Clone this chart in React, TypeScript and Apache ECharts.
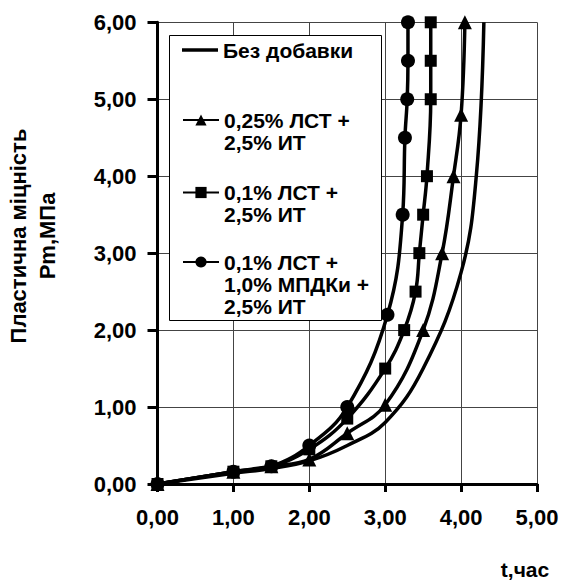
import React, { useEffect, useRef } from 'react';
import * as echarts from 'echarts';

const FONT = '"Liberation Sans", Arial, Helvetica, sans-serif';

// Series names (legend labels)
const nameNone = 'Без добавки';
const nameTri = '0,25% ЛСТ +\n2,5% ИТ';
const nameSq = '0,1% ЛСТ +\n2,5% ИТ';
const nameCir = '0,1% ЛСТ +\n1,0% МПДКи +\n2,5% ИТ';

// Без добавки
const tNone = [0, 1, 1.5, 2, 2.5, 3, 3.5, 4, 4.2, 4.3];
const pNone = [0, 0.14, 0.2, 0.3, 0.5, 0.8, 1.5, 2.75, 4.0, 6.0];

// 0,25% ЛСТ + 2,5% ИТ
const tTri = [0, 1, 1.5, 2, 2.5, 3, 3.5, 3.75, 3.9, 4.0, 4.05];
const pTri = [0, 0.16, 0.23, 0.32, 0.66, 1.03, 2.0, 3.0, 4.0, 4.8, 6.0];

// 0,1% ЛСТ + 2,5% ИТ
const tSq = [0, 1, 1.5, 2, 2.5, 3, 3.25, 3.4, 3.45, 3.5, 3.55, 3.6, 3.6, 3.6];
const pSq = [0, 0.16, 0.23, 0.45, 0.85, 1.5, 2.0, 2.5, 3.0, 3.5, 4.0, 5.0, 5.5, 6.0];

// 0,1% ЛСТ + 1,0% МПДКи + 2,5% ИТ
const tCir = [0, 1, 1.5, 2, 2.5, 3.03, 3.23, 3.26, 3.29, 3.3, 3.3];
const pCir = [0, 0.16, 0.23, 0.5, 1.0, 2.2, 3.5, 4.5, 5.0, 5.5, 6.0];

const xTicks = [0, 1, 2, 3, 4, 5];
const yTicks = [0, 1, 2, 3, 4, 5, 6];

const xTitle = 't,час';
const yTitle = 'Пластична міцність\nPm,МПа';

const fmt = (v: number) => v.toFixed(2).replace('.', ',');
const zip = (a: number[], b: number[]) => a.map((v, i) => [v, b[i]]);

function lineSeries(name: string, t: number[], p: number[], symbol: string, size: number) {
  return {
    name,
    type: 'line',
    data: zip(t, p),
    smooth: 0.4,
    clip: false,
    symbol,
    symbolSize: size,
    showSymbol: symbol !== 'none',
    lineStyle: { color: '#000', width: 3.5 },
    itemStyle: { color: '#000', borderWidth: 0 },
    emphasis: { disabled: true },
  };
}

function legendFor(name: string, top: number, blankLines: number, plainLine = false) {
  return {
    data: plainLine ? [{ name, icon: 'rect' }] : [name],
    left: 182,
    top,
    orient: 'vertical',
    padding: 0,
    itemWidth: 36,
    itemHeight: plainLine ? 3.5 : 14,
    selectedMode: false,
    z: 20,
    formatter: (n: string) => '\n'.repeat(blankLines) + n,
    textStyle: {
      fontFamily: FONT,
      fontWeight: 'bold',
      fontSize: 21,
      lineHeight: 22,
      color: '#000',
    },
  };
}

export default function App() {
  const ref = useRef<HTMLDivElement>(null);
  useEffect(() => {
    const chart = echarts.init(ref.current!, null, { renderer: 'svg' });
    const labelStyle = {
      fontFamily: FONT,
      fontWeight: 'bold',
      fontSize: 22,
      color: '#000',
    };
    const option: any = {
      animation: false,
      backgroundColor: '#fff',
      grid: { left: 157.5, right: 25, top: 22.3, bottom: 97, containLabel: false },
      xAxis: {
        type: 'value',
        min: xTicks[0],
        max: xTicks[xTicks.length - 1],
        interval: 1,
        axisLine: { show: true, onZero: false, lineStyle: { color: '#000', width: 3 } },
        axisTick: { show: true, inside: false, length: 8, lineStyle: { color: '#000', width: 3 } },
        axisLabel: { ...labelStyle, margin: 22, formatter: fmt },
        splitLine: { show: true, lineStyle: { color: '#444', width: 1 } },
      },
      yAxis: {
        type: 'value',
        min: yTicks[0],
        max: yTicks[yTicks.length - 1],
        interval: 1,
        axisLine: { show: true, onZero: false, lineStyle: { color: '#000', width: 3 } },
        axisTick: { show: true, inside: false, length: 10, lineStyle: { color: '#000', width: 3 } },
        axisLabel: { ...labelStyle, margin: 21, formatter: fmt },
        splitLine: { show: true, lineStyle: { color: '#444', width: 1 } },
      },
      legend: [
        legendFor(nameNone, 39, 0, true),
        legendFor(nameTri, 87, 1),
        legendFor(nameSq, 159.5, 1),
        legendFor(nameCir, 207, 2),
      ],
      graphic: [
        {
          type: 'rect',
          z: 10,
          shape: { x: 169.5, y: 35.5, width: 212, height: 285 },
          style: { fill: '#fff', stroke: '#000', lineWidth: 1 },
          silent: true,
        },
        {
          type: 'text',
          x: 33,
          y: 236,
          rotation: Math.PI / 2,
          style: {
            text: yTitle,
            fontFamily: FONT,
            fontWeight: 'bold',
            fontSize: 22,
            lineHeight: 29,
            align: 'center',
            verticalAlign: 'middle',
            fill: '#000',
          },
        },
        {
          type: 'text',
          x: 525,
          y: 569,
          style: {
            text: xTitle,
            fontFamily: FONT,
            fontWeight: 'bold',
            fontSize: 21,
            align: 'center',
            verticalAlign: 'middle',
            fill: '#000',
          },
        },
      ],
      series: [
        lineSeries(nameNone, tNone, pNone, 'none', 0),
        lineSeries(nameTri, tTri, pTri, 'triangle', 14),
        lineSeries(nameSq, tSq, pSq, 'rect', 12),
        lineSeries(nameCir, tCir, pCir, 'circle', 14),
      ],
    };
    chart.setOption(option);
    return () => chart.dispose();
  }, []);
  return (
    <div
      ref={ref}
      style={{ position: 'absolute', left: 0, top: 0, width: 562, height: 581 }}
    />
  );
}
